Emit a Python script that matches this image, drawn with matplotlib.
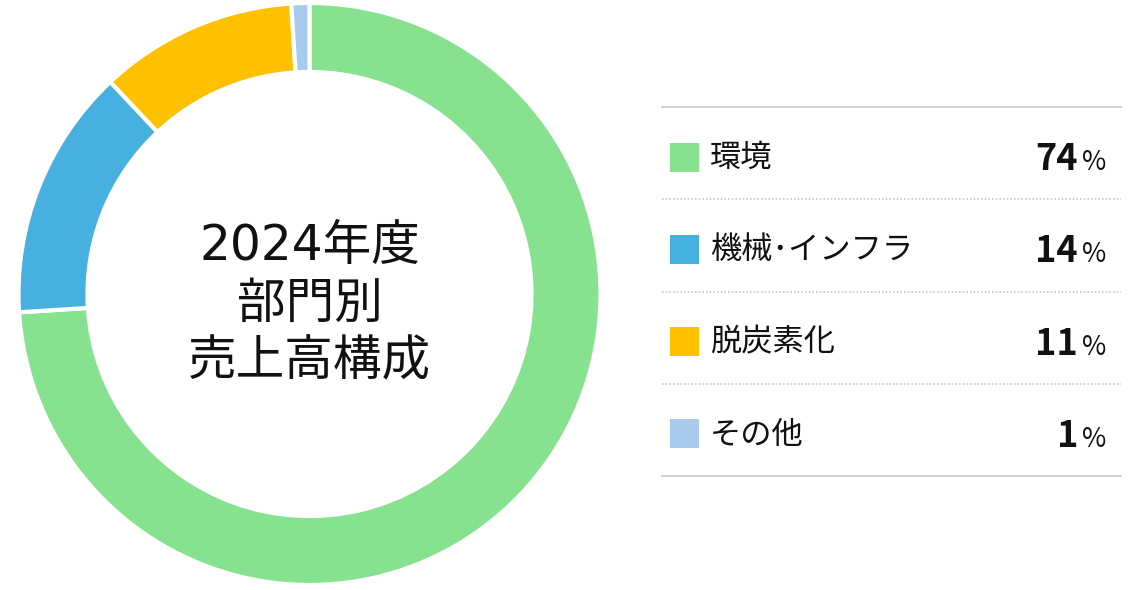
import matplotlib
matplotlib.use("Agg")
import matplotlib.pyplot as plt
from matplotlib.patches import Rectangle

plt.rcParams["font.family"] = ["Noto Sans CJK JP", "DejaVu Sans"]

# data
segments = ["環境", "機械･インフラ", "脱炭素化", "その他"]
shares = [74, 14, 11, 1]
colors = ["#86E28E", "#46B0E0", "#FFC000", "#A7CAED"]
center_title = "2024年度\n部門別\n売上高構成"

W, H = 1129, 590
fig = plt.figure(figsize=(W / 100, H / 100), dpi=100)


def fx(px):
    return px / W


def fy(py):
    return 1 - py / H


# donut
cx, cy, r = 309.5, 294, 291
ax = fig.add_axes([fx(cx - r), fy(cy + r), 2 * r / W, 2 * r / H])
ax.pie(
    shares,
    colors=colors,
    startangle=90,
    counterclock=False,
    radius=1.0,
    wedgeprops=dict(width=0.237, edgecolor="white", linewidth=3.0),
)
ax.set_xlim(-1, 1)
ax.set_ylim(-1, 1)
ax.set_aspect("equal")
ax.axis("off")

lines = center_title.split("\n")
for i, line in enumerate(lines):
    fam = ["DejaVu Sans", "Noto Sans CJK JP"] if i == 0 else ["Noto Sans CJK JP"]
    ax.text(0, ((1 - i) * 58 - 10) / r, line, ha="center", va="center",
            fontsize=35, color="#111111", family=fam)

# legend table, in pixel space
lx = fig.add_axes([0, 0, 1, 1])
lx.set_xlim(0, W)
lx.set_ylim(H, 0)
lx.axis("off")

x0, x1 = 662, 1121
top, step = 107, 92.3
lx.plot([x0, x1], [top, top], color="#d3d3d3", lw=1.5)
lx.plot([x0, x1], [top + step * len(segments)] * 2, color="#d3d3d3", lw=1.5)
for k in range(1, len(segments)):
    yy = top + step * k
    lx.plot([x0, x1], [yy, yy], color="#c8c8c8", lw=1.2, dashes=(1, 1.2))

for k, (name, val, col) in enumerate(zip(segments, shares, colors)):
    yc = top + step * k + 50
    lx.add_patch(Rectangle((670, yc - 14.5), 29, 29, facecolor=col, edgecolor="none"))
    lx.text(710, yc + 1, name, ha="left", va="center", fontsize=22.5, color="#111111")
    lx.text(1078, yc + 13, str(val), ha="right", va="baseline", fontsize=26,
            fontweight="bold", color="#111111")
    lx.text(1082, yc + 13, "%", ha="left", va="baseline", fontsize=19,
            color="#111111")

fig.savefig("out.png", dpi=100)
